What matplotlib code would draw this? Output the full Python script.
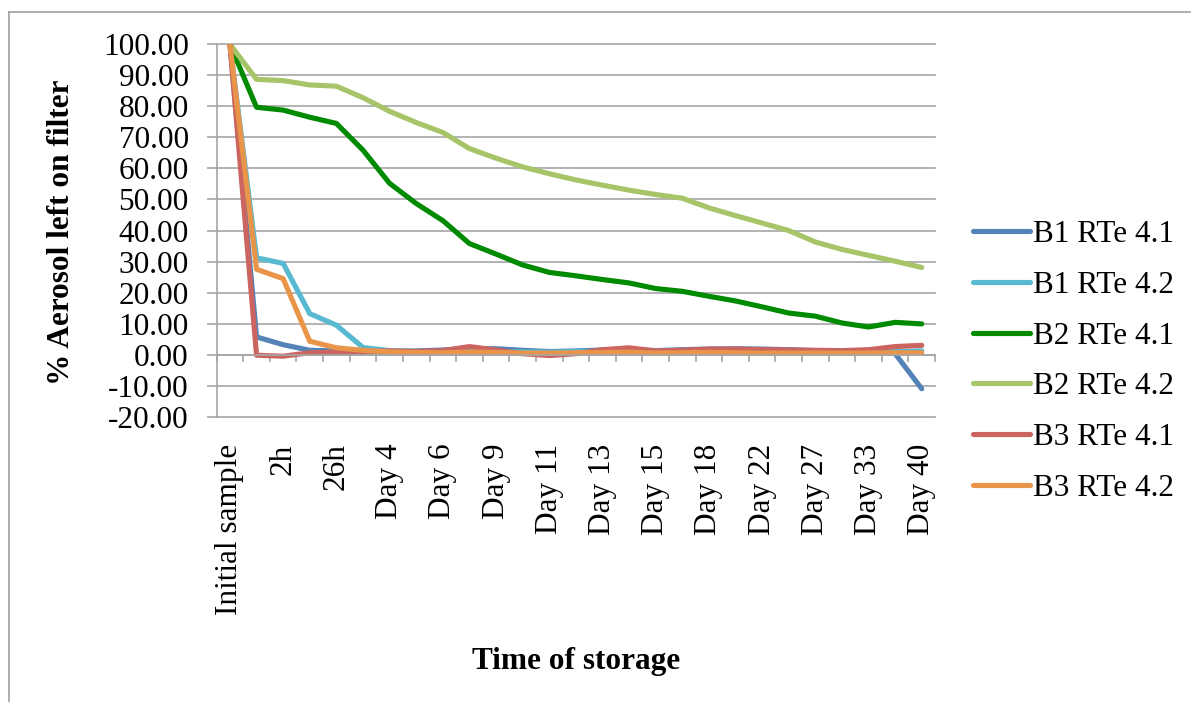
import matplotlib
matplotlib.use("Agg")
import matplotlib.pyplot as plt
from matplotlib.lines import Line2D
import numpy as np

plt.rcParams['font.family'] = ['Liberation Serif', 'DejaVu Serif']

# 27 sampling points; every second one carries a label on the axis
n_points = 27
tick_labels = ["Initial sample", "2h", "26h", "Day 4", "Day 6", "Day 9", "Day 11",
               "Day 13", "Day 15", "Day 18", "Day 22", "Day 27", "Day 33", "Day 40"]

series_names = ["B1 RTe 4.1", "B1 RTe 4.2", "B2 RTe 4.1",
                "B2 RTe 4.2", "B3 RTe 4.1", "B3 RTe 4.2"]

b1_rte41 = [100, 5.7, 3.2, 1.4, 1.2, 1.3, 1.0, 1.2, 1.5, 2.0, 1.9, 1.4, 1.0, 1.2,
            1.5, 1.7, 1.3, 1.6, 1.8, 1.9, 1.8, 1.6, 1.3, 1.3, 1.3, 0.3, -11.0]
b1_rte42 = [100, 31.2, 29.4, 13.2, 9.5, 2.3, 1.3, 1.0, 0.9, 1.1, 1.0, 0.9, 0.8, 1.0,
            1.1, 1.0, 0.9, 1.0, 1.0, 1.0, 1.1, 1.0, 1.0, 1.0, 1.0, 1.0, 1.2]
b2_rte41 = [100, 79.7, 78.8, 76.5, 74.5, 65.9, 55.2, 48.7, 43.2, 35.8, 32.4, 28.9, 26.5, 25.4,
            24.2, 23.1, 21.3, 20.4, 18.8, 17.3, 15.4, 13.4, 12.4, 10.2, 8.9, 10.4, 9.9]
b2_rte42 = [100, 88.7, 88.3, 86.9, 86.5, 82.8, 78.4, 74.8, 71.6, 66.4, 63.3, 60.5, 58.3, 56.3,
            54.6, 53.0, 51.6, 50.4, 47.3, 44.8, 42.4, 40.0, 36.3, 33.9, 32.0, 30.1, 28.1]
b3_rte41 = [100, -0.2, -0.5, 0.6, 0.8, 1.0, 1.2, 1.0, 1.3, 2.6, 1.5, 0.3, -0.3, 0.3,
            1.6, 2.2, 1.2, 1.4, 1.8, 1.8, 1.6, 1.5, 1.4, 1.3, 1.6, 2.6, 3.0]
b3_rte42 = [100, 27.5, 24.5, 4.3, 2.2, 1.4, 0.9, 0.7, 0.6, 0.8, 0.7, 0.5, 0.5, 0.6,
            0.7, 0.8, 0.5, 0.6, 0.7, 0.6, 0.5, 0.5, 0.5, 0.5, 0.5, 0.6, 0.6]

colors = ["#5483B8", "#58B9D1", "#008A00", "#A6C468", "#CC6560", "#E8954A"]
grid_color = "#A6A6A6"
fs = 22.5

fig = plt.figure(figsize=(11.91, 7.02), dpi=100)
ax = fig.add_axes([0.1819, 0.4064, 0.6032, 0.5305])

x = np.arange(n_points)
all_series = [b1_rte41, b1_rte42, b2_rte41, b2_rte42, b3_rte41, b3_rte42]
for vals, name, col in zip(all_series, series_names, colors):
    ax.plot(x, vals, color=col, lw=3.7, label=name,
            solid_joinstyle='round', solid_capstyle='round')

ax.set_xlim(-0.5, n_points - 0.5)
ax.set_ylim(-20, 100)
ax.set_yticks(np.arange(-20, 101, 10))
ax.set_yticklabels([f"{v:.2f}" for v in np.arange(-20, 101, 10)], fontsize=fs)

# category axis sits on the zero line, labels stay at the bottom
ax.spines['bottom'].set_position(('data', 0))
ax.spines['bottom'].set_color(grid_color)
ax.spines['bottom'].set_linewidth(1.2)
ax.spines['left'].set_color(grid_color)
ax.spines['left'].set_linewidth(1.2)
ax.spines['top'].set_visible(False)
ax.spines['right'].set_visible(False)

ax.set_xticks(x[::2])
ax.set_xticklabels(tick_labels, rotation=90, fontsize=fs, va='top', ha='center')
ax.set_xticks(np.arange(-0.5, n_points, 1.0), minor=True)
ax.tick_params(axis='x', which='major', length=0, pad=64)
ax.tick_params(axis='x', which='minor', length=5, width=1.2, color=grid_color, direction='out')
ax.tick_params(axis='y', length=7, width=1.2, color=grid_color, pad=13)

ax.grid(axis='y', color=grid_color, lw=1.2)
for gl in ax.get_ygridlines():
    gl.set_clip_on(False)
ax.set_axisbelow(True)

fig.text(62 / 1191, 1 - 232.5 / 702, "% Aerosol left on filter", rotation=90,
         fontsize=fs, fontweight='bold', ha='center', va='center')
fig.text(576 / 1191, 1 - 662 / 702, "Time of storage",
         fontsize=fs, fontweight='bold', ha='center', va='center')

fig.legend(loc='center left', bbox_to_anchor=(973 / 1191, 1 - 361.5 / 702),
           frameon=False, fontsize=fs, handlelength=1.83, handletextpad=0.08,
           labelspacing=0.70, borderpad=0, borderaxespad=0)

# outer chart frame
fig.add_artist(Line2D([9 / 1191, 9 / 1191], [0, 1 - 12 / 702],
                      transform=fig.transFigure, color="#A0A0A0", lw=1.2))
fig.add_artist(Line2D([9 / 1191, 1], [1 - 12 / 702, 1 - 12 / 702],
                      transform=fig.transFigure, color="#A0A0A0", lw=1.2))

fig.savefig("out.png", dpi=100)
